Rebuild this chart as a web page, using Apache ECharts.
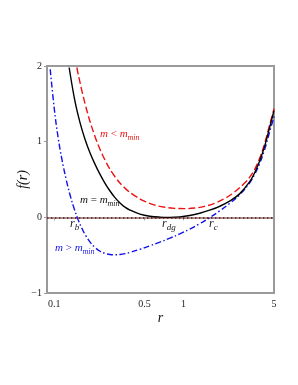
<!DOCTYPE html>
<html>
<head>
<meta charset="utf-8">
<script src="https://cdn.jsdelivr.net/npm/echarts@6/dist/echarts.min.js"></script>
<style>
html,body{margin:0;padding:0;background:#fff;}
#chart{width:298px;height:385px;}
</style>
</head>
<body>
<div id="chart"></div>
<script>
// x tick labels (log axis)
const xTicks = [0.1, 0.5, 1, 5];

// m = m_min (black, solid)
const blackR = [0.1305, 0.1451, 0.1586, 0.1733, 0.1894, 0.2070, 0.2262, 0.2472, 0.2701, 0.2951, 0.3225, 0.3524, 0.3851, 0.4598, 0.5491, 0.6557, 0.783, 0.9348, 1.116, 1.333, 1.591, 1.901, 2.269, 2.71, 3.236, 3.536, 3.865, 4.223, 4.614, 5.0];
const blackF = [1.98, 1.525, 1.248, 1.028, 0.85, 0.70, 0.568, 0.45, 0.348, 0.26, 0.19, 0.135, 0.096, 0.043, 0.015, 0.003, 0.0, 0.006, 0.0245, 0.0545, 0.0945, 0.146, 0.214, 0.31, 0.468, 0.586, 0.74, 0.935, 1.18, 1.41];

// m < m_min (red, dashed)
const redR = [0.1496, 0.1733, 0.2070, 0.2472, 0.2951, 0.3524, 0.4207, 0.5025, 0.6001, 0.7165, 0.8554, 1.0214, 1.2197, 1.4565, 1.739, 2.077, 2.48, 2.961, 3.236, 3.536, 3.865, 4.223, 4.614, 5.0];
const redF = [1.98, 1.50, 1.066, 0.756, 0.536, 0.386, 0.284, 0.211, 0.162, 0.133, 0.119, 0.115, 0.1225, 0.145, 0.185, 0.2475, 0.335, 0.4525, 0.5285, 0.631, 0.776, 0.971, 1.2135, 1.4355];

// m > m_min (blue, dash-dot)
const blueR = [0.0932, 0.1, 0.1073, 0.1152, 0.1237, 0.1328, 0.1426, 0.1531, 0.1643, 0.1764, 0.1894, 0.2070, 0.2262, 0.2472, 0.2701, 0.2951, 0.3225, 0.3524, 0.3851, 0.4598, 0.5491, 0.6557, 0.783, 0.9348, 1.116, 1.333, 1.591, 1.901, 2.269, 2.71, 3.236, 3.536, 3.865, 4.223, 4.614, 5.0];
const blueF = [1.957, 1.447, 1.052, 0.752, 0.502, 0.292, 0.116, -0.031, -0.151, -0.249, -0.327, -0.399, -0.448, -0.477, -0.491, -0.495, -0.491, -0.48, -0.463, -0.422, -0.376, -0.328, -0.276, -0.218, -0.155, -0.084, -0.004, 0.085, 0.183, 0.297, 0.454, 0.564, 0.707, 0.892, 1.122, 1.332];

const zip = (a, b) => a.map((v, i) => [v, b[i]]);
const SERIF = '"Liberation Serif", "DejaVu Serif", serif';

const chart = echarts.init(document.getElementById('chart'), null, {renderer: 'canvas'});

const subRich = (color) => ({
  i: {font: 'italic 11px ' + SERIF, lineHeight: 16, fill: color},
  n: {font: '11px ' + SERIF, lineHeight: 16, fill: color},
  s: {font: 'italic 8px ' + SERIF, lineHeight: 9, verticalAlign: 'bottom', fill: color}
});
const rRich = {
  i: {font: 'italic 12px ' + SERIF, lineHeight: 16, fill: '#222'},
  s: {font: 'italic 9px ' + SERIF, lineHeight: 10, verticalAlign: 'bottom', fill: '#222'}
};

const txt = (x, y, text, rich) => ({
  type: 'text', x: x, y: y, z: 100,
  style: {text: text, rich: rich, verticalAlign: 'middle', align: 'left'}
});

chart.setOption({
  animation: false,
  grid: {left: 47, right: 24, top: 66, bottom: 92, show: true, borderColor: '#9a9a9a', borderWidth: 2, backgroundColor: 'transparent'},
  xAxis: {
    type: 'log', min: 0.088, max: 5, logBase: 10,
    name: 'r', nameLocation: 'middle', nameGap: 18, nameMoveOverlap: false,
    nameTextStyle: {fontFamily: SERIF, fontStyle: 'italic', fontSize: 14, color: '#111'},
    axisLine: {show: true, lineStyle: {color: '#9a9a9a', width: 2}},
    axisTick: {show: true, length: 3, lineStyle: {color: '#9a9a9a'}, customValues: xTicks},
    minorTick: {show: false},
    splitLine: {show: false},
    axisLabel: {fontFamily: SERIF, fontSize: 10, color: '#222', margin: 6, customValues: xTicks,
      formatter: (v) => { const m = xTicks.find(t => Math.abs(t - v) < 1e-6 * t); return m !== undefined ? String(m) : ''; }}
  },
  yAxis: {
    type: 'value', min: -1, max: 2, interval: 1,
    name: 'f(r)', nameLocation: 'middle', nameGap: 17, nameRotate: 90, nameMoveOverlap: false,
    nameTextStyle: {fontFamily: SERIF, fontStyle: 'italic', fontSize: 14, color: '#111'},
    axisLine: {show: true, lineStyle: {color: '#9a9a9a', width: 2}},
    axisTick: {show: true, length: 3, lineStyle: {color: '#9a9a9a'}},
    splitLine: {show: false},
    axisLabel: {fontFamily: SERIF, fontSize: 10, color: '#222', margin: 5,
      formatter: (v) => v < 0 ? '\u2212' + Math.abs(v) : String(v)}
  },
  series: [
    {
      type: 'line', data: zip(redR, redF), showSymbol: false, smooth: 0.4, clip: true,
      lineStyle: {color: '#ee1111', width: 1.4, type: [7, 3]}
    },
    {
      type: 'line', data: zip(blueR, blueF), showSymbol: false, smooth: 0.4, clip: true,
      lineStyle: {color: '#1010ee', width: 1.4, type: [6, 2.5, 1.5, 2.5]}
    },
    {
      type: 'line', data: zip(blackR, blackF), showSymbol: false, smooth: 0.4, clip: true,
      lineStyle: {color: '#000', width: 1.4},
      markLine: {
        silent: true, symbol: 'none', label: {show: false},
        lineStyle: {color: '#8b0000', width: 1.5, type: [1.4, 2.6]},
        data: [{yAxis: 0}]
      }
    }
  ],
  graphic: [
    txt(100, 134, '{i|m}{n| < }{i|m}{s|min}', subRich('#e81515')),
    txt(80, 200, '{i|m}{n| = }{i|m}{s|min}', subRich('#111')),
    txt(55, 248, '{i|m}{n| > }{i|m}{s|min}', subRich('#1515e8')),
    txt(70, 224, '{i|r}{s|b}', rRich),
    txt(162, 224, '{i|r}{s|dg}', rRich),
    txt(209, 224, '{i|r}{s|c}', rRich)
  ]
});
</script>
</body>
</html>
